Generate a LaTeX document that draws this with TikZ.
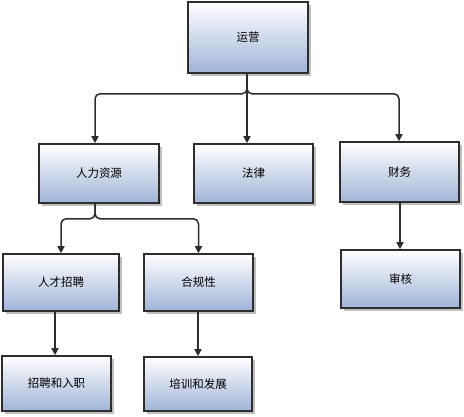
\documentclass[tikz,border=0pt]{standalone}
\usepackage{fontspec}
\setmainfont{Noto Sans CJK SC}
\usetikzlibrary{shadows,arrows.meta}
\definecolor{boxbot}{RGB}{160,180,216}
\definecolor{edge}{RGB}{45,45,45}
\tikzset{
  orgbox/.style={draw=edge, line width=1.6pt, top color=white, bottom color=boxbot,
    minimum width=#1, inner sep=0pt, font=\fontsize{11.5}{13}\selectfont,
    drop shadow={shadow xshift=2.5pt, shadow yshift=-2.5pt, fill=black, opacity=0.25}},
  conn/.style={draw=edge, line width=1.5pt, rounded corners=5pt, -{Triangle[length=7pt,width=7pt]}}
}
\begin{document}
\begin{tikzpicture}[x=1pt,y=-1pt]
\useasboundingbox (0,0) rectangle (464,416);
\node[orgbox=120pt, minimum height=71pt] (yy) at (248,37.5) {运营};
\node[orgbox=120pt, minimum height=59pt] (rl) at (99,173.5) {人力资源};
\node[orgbox=119pt, minimum height=59pt] (fl) at (253.5,173.5) {法律};
\node[orgbox=119pt, minimum height=60pt] (cw) at (399.5,172) {财务};
\node[orgbox=116pt, minimum height=57pt] (rc) at (61,282.5) {人才招聘};
\node[orgbox=109pt, minimum height=57pt] (hg) at (198.5,282.5) {合规性};
\node[orgbox=119pt, minimum height=58pt] (sh) at (400.5,279) {审核};
\node[orgbox=109pt, minimum height=55pt] (zp) at (56.5,383.5) {招聘和入职};
\node[orgbox=108pt, minimum height=54pt] (px) at (198,384) {培训和发展};
\draw[conn] ([xshift=-1pt]yy.south) -- ++(0,20) -| ([xshift=-4pt]rl.north);
\draw[conn] ([xshift=-1pt]yy.south) -- ([xshift=-6.5pt]fl.north);
\draw[conn] ([xshift=-1pt]yy.south) -- ++(0,20) -| ([xshift=-0.5pt]cw.north);
\draw[conn] ([xshift=-4pt]rl.south) -- ++(0,15) -| (rc.north);
\draw[conn] ([xshift=-4pt]rl.south) -- ++(0,15) -| (hg.north);
\draw[conn] ([xshift=-6pt]rc.south) -- ([xshift=-1.5pt]zp.north);
\draw[conn] ([xshift=-0.5pt]hg.south) -- (px.north);
\draw[conn] ([xshift=0.5pt]cw.south) -- ([xshift=-0.5pt]sh.north);
\end{tikzpicture}
\end{document}
